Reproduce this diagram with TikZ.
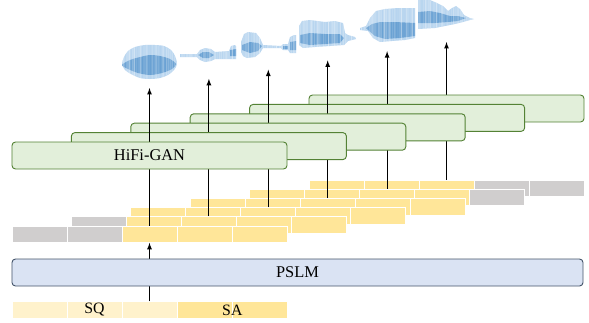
\documentclass[tikz,border=0pt]{standalone}
\usepackage{fontspec}
\setmainfont{Liberation Serif}
\usepackage{tikz}
\usetikzlibrary{arrows}

\definecolor{ganfill}{HTML}{E2EFDA}
\definecolor{ganline}{HTML}{548235}
\definecolor{lmfill}{HTML}{DAE3F3}
\definecolor{lmline}{HTML}{44546A}
\definecolor{tokyel}{HTML}{FFE699}
\definecolor{tokgray}{HTML}{D0CECE}
\definecolor{toklight}{HTML}{FFF2CC}
\definecolor{wavelight}{HTML}{B3D2EE}
\definecolor{wavedark}{HTML}{3F86C6}

% #1 = left x, #2 = outer outline, #3 = darker core
\newcommand{\drawwave}[3]{%
  \fill[wavelight] #2;
  \fill[wavedark,opacity=.7] #3;
  \begin{scope}
    \clip #2;
    \foreach \i in {0,...,70}{
      \pgfmathsetmacro{\op}{0.05+0.25*rnd}
      \draw[white,line width=.25pt,opacity=\op] ({#1+0.85*\i},-2) -- ({#1+0.85*\i},95);
    }
  \end{scope}
}

\begin{document}
\begin{tikzpicture}[x=0.03cm,y=-0.03cm,>=latex,
    gan/.style={draw=ganline,fill=ganfill,rounded corners=3pt,line width=.8pt,
      minimum width=8.25cm,minimum height=.81cm,inner sep=0pt,font=\fontsize{14}{16}\selectfont},
    pslm/.style={draw=lmline,fill=lmfill,rounded corners=3pt,line width=.8pt,
      minimum width=17.13cm,minimum height=.81cm,inner sep=0pt,font=\fontsize{14}{16}\selectfont},
    tok/.style={draw=white,line width=.6pt,minimum width=1.65cm,minimum height=.495cm,inner sep=0pt},
    tok-y/.style={tok,fill=tokyel},
    tok-g/.style={tok,fill=tokgray},
    tok-l/.style={tok,fill=toklight},
    lbl/.style={inner sep=0pt,font=\fontsize{13.5}{15}\selectfont},
    link/.style={->,line width=.9pt}]
  \useasboundingbox (0,0) rectangle (589,322);
  \pgfmathsetseed{42}

  % waveforms
  \drawwave{121}{plot[smooth cycle,tension=.5] coordinates {(122,64) (124,57) (128,51) (135,47) (145,45) (155,45) (164,46) (171,50) (175,56) (177,64) (174,70) (168,75) (160,78) (150,79) (140,78) (131,74) (125,70)}}
    {plot[smooth cycle,tension=.5] coordinates {(122,65) (130,60) (140,57) (150,55) (160,56) (170,59) (176,64) (172,69) (162,73) (150,75) (138,73) (128,69)}}
  \drawwave{179}{(180,54) -- (197,54) -- (200,50) -- (205,48) -- (211,49) -- (215,52) -- (229,51) -- (231,46) -- (235,45) -- (236,46) -- (236,59) -- (229,59) -- (215,59) -- (211,61) -- (205,62) -- (200,60) -- (197,57) -- (180,57) -- cycle}
    {(198,55) -- (203,52) -- (209,52) -- (214,55) -- (209,58) -- (203,58) -- cycle (230,50) -- (236,49) -- (236,56) -- (230,56) -- cycle}
  \drawwave{240}{(241,42) -- (244,34) -- (248,32) -- (256,33) -- (260,38) -- (263,45) -- (281,46) -- (283,44) -- (288,44) -- (290,37) -- (294,35) -- (296,35) -- (296,53) -- (290,53) -- (288,50) -- (283,50) -- (281,48) -- (263,48) -- (260,53) -- (255,57) -- (247,58) -- (243,56) -- (241,52) -- cycle}
    {(242,45) -- (250,42) -- (258,43) -- (262,46) -- (258,51) -- (250,53) -- (242,50) -- cycle (283,46) -- (288,46) -- (288,49) -- (283,49) -- cycle (290,42) -- (296,41) -- (296,50) -- (290,50) -- cycle}
  \drawwave{298}{(299,26) -- (302,21) -- (310,20) -- (325,22) -- (335,21) -- (343,23) -- (345,33) -- (348,35) -- (355,37) -- (356,39) -- (348,41) -- (344,45) -- (330,46) -- (315,47) -- (303,48) -- (299,45) -- cycle}
    {(300,35) -- (310,33) -- (325,34) -- (340,34) -- (344,38) -- (340,43) -- (325,44) -- (310,45) -- (300,43) -- cycle}
  \drawwave{359}{(360,28) -- (366,26) -- (370,18) -- (376,11) -- (385,9) -- (398,8) -- (415,8) -- (415,38) -- (405,40) -- (392,41) -- (380,42) -- (373,38) -- (368,31) -- (360,30) -- cycle}
    {(366,28) -- (372,24) -- (380,22) -- (395,22) -- (415,23) -- (415,36) -- (400,38) -- (385,39) -- (375,36) -- (368,30) -- cycle}
  \drawwave{417}{(418,0) -- (430,0) -- (437,3) -- (443,6) -- (448,11) -- (452,8) -- (456,6) -- (460,9) -- (464,15) -- (470,18) -- (474,19) -- (470,20) -- (463,22) -- (455,24) -- (445,26) -- (435,28) -- (418,29) -- cycle}
    {(418,12) -- (430,11) -- (440,13) -- (450,16) -- (458,16) -- (466,18) -- (458,21) -- (448,22) -- (435,23) -- (418,23) -- cycle}

  % input tokens
  \foreach \c [count=\j] in {l,l,l,y,y}
    \node[tok-\c] (in\j) at ({-15.5+55*\j},310) {};
  \node[lbl] (sq) at (in2) {SQ};
  \node[lbl] (sa) at (in4.east) {SA};

  % sliding windows, back to front
  \foreach \k/\row in {6/{y,y,y,g,g},5/{y,y,y,y,g},4/{y,y,y,y,y},3/{y,y,y,y,y},2/{g,y,y,y,y},1/{g,g,y,y,y}}{
    \foreach \c [count=\j] in \row
      \node[tok-\c] (tok\k\j) at ({-74.9+59.4*\k+55*\j},{243.45-9.2*\k}) {};
    \coordinate (wav\k) at ({90.1+59.4*\k},{97.2-9.2*\k});
    \draw[link] (tok\k3.north) -- (wav\k);
    \node[gan] (gan\k) at ({90.1+59.4*\k},{164.9-9.4*\k}) {\ifnum\k=1 HiFi-GAN\fi};
  }

  \draw[link] (in3.north) -- (tok13.south);
  \node[pslm] (lm) at (297.5,272.5) {PSLM};
\end{tikzpicture}
\end{document}
